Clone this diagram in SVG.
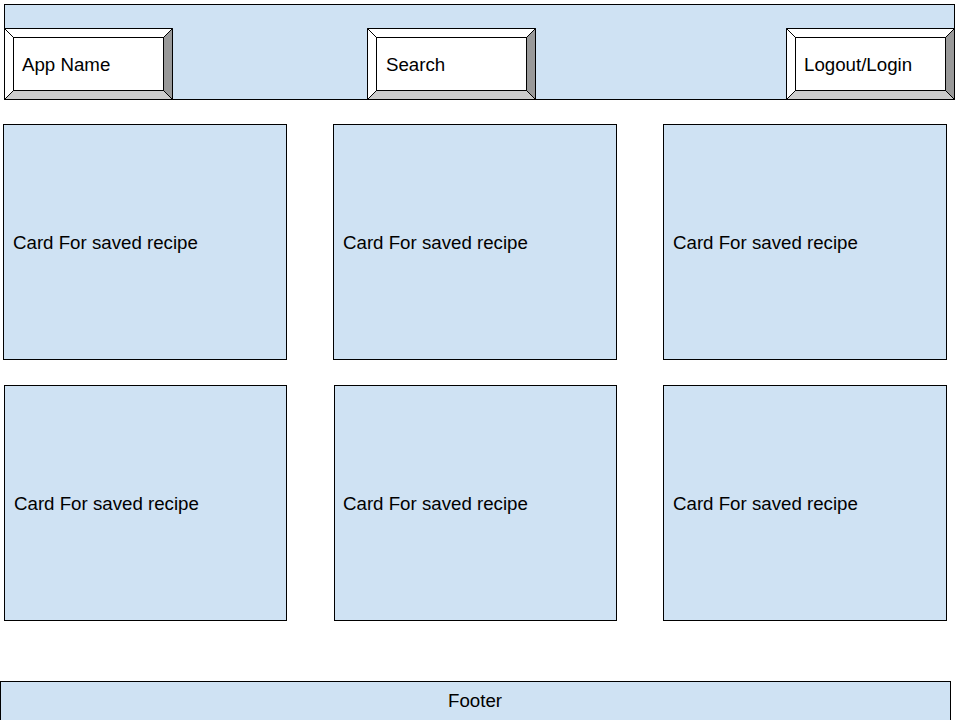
<svg xmlns="http://www.w3.org/2000/svg" width="960" height="720" viewBox="0 0 960 720">
<style>
.box{fill:#cfe2f3;stroke:#000;stroke-width:1}
.t{font-family:"Liberation Sans",Arial,sans-serif;font-size:18.7px;fill:#000}
.face{fill:#fff;stroke:#000;stroke-width:1}
.lt{fill:#fff;stroke:#000;stroke-width:1}
.rt{fill:#999;stroke:#000;stroke-width:1}
.bt{fill:#ccc;stroke:#000;stroke-width:1}
</style>
<rect width="960" height="720" fill="#fff"/>
<g id="header"><rect class="box" x="4.5" y="4.5" width="950" height="95"/></g>
<g id="appname">
<polygon class="lt" points="4.5,28.5 172.5,28.5 163.5,37.5 13.5,37.5"/>
<polygon class="lt" points="4.5,28.5 13.5,37.5 13.5,90.5 4.5,99.5"/>
<polygon class="rt" points="172.5,28.5 172.5,99.5 163.5,90.5 163.5,37.5"/>
<polygon class="bt" points="4.5,99.5 13.5,90.5 163.5,90.5 172.5,99.5"/>
<rect class="face" x="13.5" y="37.5" width="150" height="53"/>
<text class="t" x="22" y="71">App Name</text>
</g>
<g id="search">
<polygon class="lt" points="367.5,28.5 535.5,28.5 526.5,37.5 376.5,37.5"/>
<polygon class="lt" points="367.5,28.5 376.5,37.5 376.5,90.5 367.5,99.5"/>
<polygon class="rt" points="535.5,28.5 535.5,99.5 526.5,90.5 526.5,37.5"/>
<polygon class="bt" points="367.5,99.5 376.5,90.5 526.5,90.5 535.5,99.5"/>
<rect class="face" x="376.5" y="37.5" width="150" height="53"/>
<text class="t" x="386" y="71">Search</text>
</g>
<g id="login">
<polygon class="lt" points="786.5,28.5 954.5,28.5 945.5,37.5 795.5,37.5"/>
<polygon class="lt" points="786.5,28.5 795.5,37.5 795.5,90.5 786.5,99.5"/>
<polygon class="rt" points="954.5,28.5 954.5,99.5 945.5,90.5 945.5,37.5"/>
<polygon class="bt" points="786.5,99.5 795.5,90.5 945.5,90.5 954.5,99.5"/>
<rect class="face" x="795.5" y="37.5" width="150" height="53"/>
<text class="t" x="804" y="71">Logout/Login</text>
</g>
<g id="card1"><rect class="box" x="3.5" y="124.5" width="283" height="235"/><text class="t" x="13" y="249">Card For saved recipe</text></g>
<g id="card2"><rect class="box" x="333.5" y="124.5" width="283" height="235"/><text class="t" x="343" y="249">Card For saved recipe</text></g>
<g id="card3"><rect class="box" x="663.5" y="124.5" width="283" height="235"/><text class="t" x="673" y="249">Card For saved recipe</text></g>
<g id="card4"><rect class="box" x="4.5" y="385.5" width="282" height="235"/><text class="t" x="14" y="510">Card For saved recipe</text></g>
<g id="card5"><rect class="box" x="334.5" y="385.5" width="282" height="235"/><text class="t" x="343" y="510">Card For saved recipe</text></g>
<g id="card6"><rect class="box" x="663.5" y="385.5" width="283" height="235"/><text class="t" x="673" y="510">Card For saved recipe</text></g>
<g id="footer"><rect class="box" x="0.5" y="681.5" width="950" height="45"/><text class="t" x="475" y="707" text-anchor="middle">Footer</text></g>
<g id="connectors"/>
</svg>
